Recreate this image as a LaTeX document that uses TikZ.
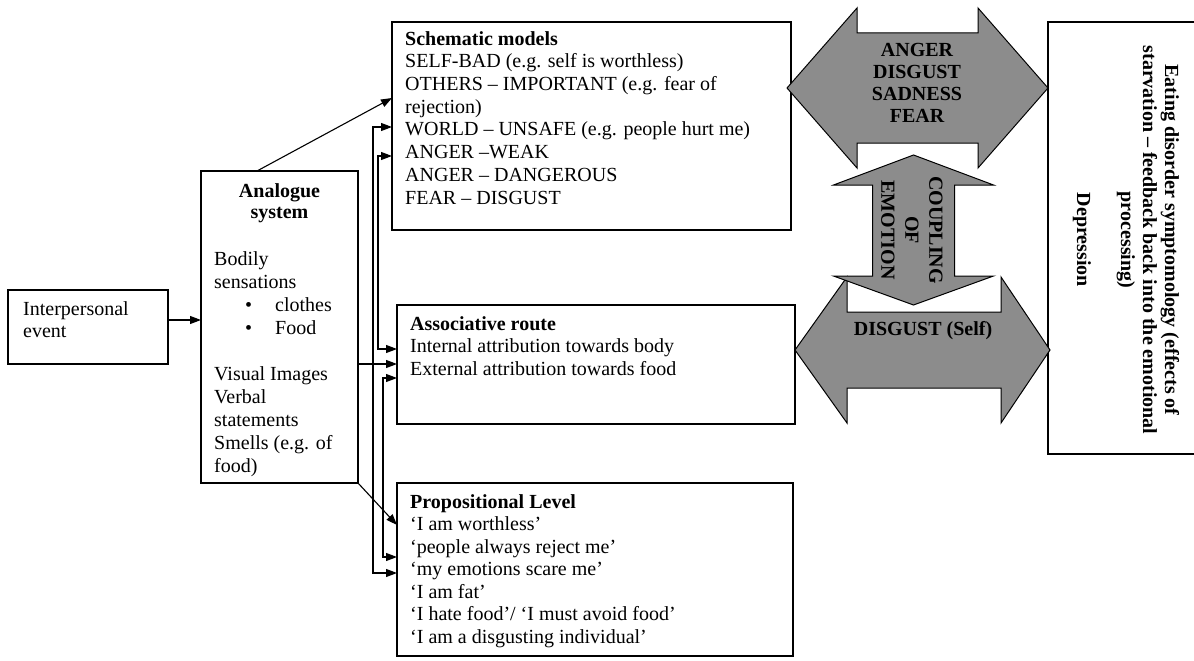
\documentclass[tikz,border=0pt]{standalone}
\usepackage{fontspec}
\setmainfont{Liberation Serif}
\usetikzlibrary{arrows.meta}
\definecolor{emofill}{RGB}{140,140,140}
\begin{document}
\begin{tikzpicture}[x=1pt,y=-1pt,
  frame/.style={draw=black, line width=1.2pt, inner sep=0pt, outer sep=0pt, anchor=north west, fill=white},
  txt/.style={inner sep=0pt, anchor=north west, align=left, font=\fontsize{20}{22.7}\selectfont},
  link/.style={line width=1.1pt, -{Triangle[length=11pt,width=8pt]}},
  twolink/.style={line width=1.1pt, {Triangle[length=11pt,width=8pt]}-{Triangle[length=11pt,width=8pt]}},
  emo/.style={draw=black, line width=1pt, fill=emofill, line join=miter},
  emotxt/.style={inner sep=0pt, align=center, font=\fontsize{20}{22}\selectfont\bfseries}
]
\useasboundingbox (0,0) rectangle (1194,661);

% boxes
\node[frame, minimum width=160pt, minimum height=74pt]  (inter)  at (8,290)   {};
\node[frame, minimum width=157pt, minimum height=312pt] (analog) at (201,171) {};
\node[frame, minimum width=399pt, minimum height=208pt] (schem)  at (392,22)  {};
\node[frame, minimum width=398pt, minimum height=119pt] (assoc)  at (397,305) {};
\node[frame, minimum width=396pt, minimum height=173pt] (prop)   at (397,483) {};
\node[frame, minimum width=170pt, minimum height=432pt] (sympt)  at (1048,22) {};

% box texts
\node[txt] (intertxt) at (23,299.1) {\strut Interpersonal\\event};
\node[txt, anchor=north, align=center, font=\fontsize{20}{21}\selectfont\bfseries] (analogtitle) at (279.5,182.3) {\strut Analogue\\system};
\node[txt, font=\fontsize{20}{23}\selectfont] (analogtxt) at (214,248.9) {\strut Bodily\\sensations\\
  \hspace*{31pt}\makebox[30pt][l]{\textbullet}clothes\\
  \hspace*{31pt}\makebox[30pt][l]{\textbullet}Food\\[23pt]
  Visual Images\\Verbal\\statements\\Smells (e.g. of\\food)};
\node[txt] (schemtxt) at (405,29.1) {\strut\textbf{Schematic models}\\
  SELF-BAD (e.g. self is worthless)\\
  OTHERS – IMPORTANT (e.g. fear of\\
  rejection)\\
  WORLD – UNSAFE (e.g. people hurt me)\\
  ANGER –WEAK\\
  ANGER – DANGEROUS\\
  FEAR – DISGUST};
\node[txt] (assoctxt) at (410,314.1) {\strut\textbf{Associative route}\\
  Internal attribution towards body\\
  External attribution towards food};
\node[txt, font=\fontsize{20}{22.5}\selectfont] (proptxt) at (410,492.2) {\strut\textbf{Propositional Level}\\
  ‘I am worthless’\\
  ‘people always reject me’\\
  ‘my emotions scare me’\\
  ‘I am fat’\\
  ‘I hate food’/ ‘I must avoid food’\\
  ‘I am a disgusting individual’};
\node[emotxt, rotate=-90] (symptxt) at (1126,240) {Eating disorder symptomology (effects of\\
  starvation – feedback back into the emotional\\
  processing)\\[22pt]
  Depression};

% emotion arrows
\draw[emo] (787,88) -- (857,8) -- (857,33) -- (978,33) -- (978,8) -- (1048,88)
  -- (978,168) -- (978,143) -- (857,143) -- (857,168) -- cycle;
\draw[emo] (795,350) -- (847,277) -- (847,312) -- (1001,312) -- (1001,277) -- (1050,350)
  -- (1001,423) -- (1001,388) -- (847,388) -- (847,423) -- cycle;
\draw[emo] (913.5,155) -- (993.5,185) -- (954.5,185) -- (954.5,276) -- (993.5,276) -- (913.5,305)
  -- (833.5,276) -- (872.5,276) -- (872.5,185) -- (833.5,185) -- cycle;

\node[emotxt, anchor=north] (emotop) at (917,40.6) {\strut ANGER\\DISGUST\\SADNESS\\FEAR};
\node[emotxt, anchor=base] (emoself) at (923,335) {DISGUST (Self)};
\node[emotxt, rotate=-90, font=\fontsize{20}{24}\selectfont\bfseries] (coupling) at (912,230) {COUPLING\\OF\\EMOTION};

% connectors
\draw[link] (inter.east |- 0,320) -- (analog.west |- 0,320);
\draw[link] ([xshift=56pt]analog.north west) -- (schem.west |- 0,98);
\draw[link] (analog.east |- 0,364) -- (assoc.west |- 0,364);
\draw[link] (analog.south east) -- (prop.west |- 0,525);
\draw[twolink] (schem.west |- 0,127) -- (373,127) -- (373,573) -- (prop.west |- 0,573);
\draw[twolink] (schem.west |- 0,156) -- (378,156) -- (378,349) -- (assoc.west |- 0,349);
\draw[twolink] (assoc.west |- 0,378) -- (383,378) -- (383,557) -- (prop.west |- 0,557);
\end{tikzpicture}
\end{document}
